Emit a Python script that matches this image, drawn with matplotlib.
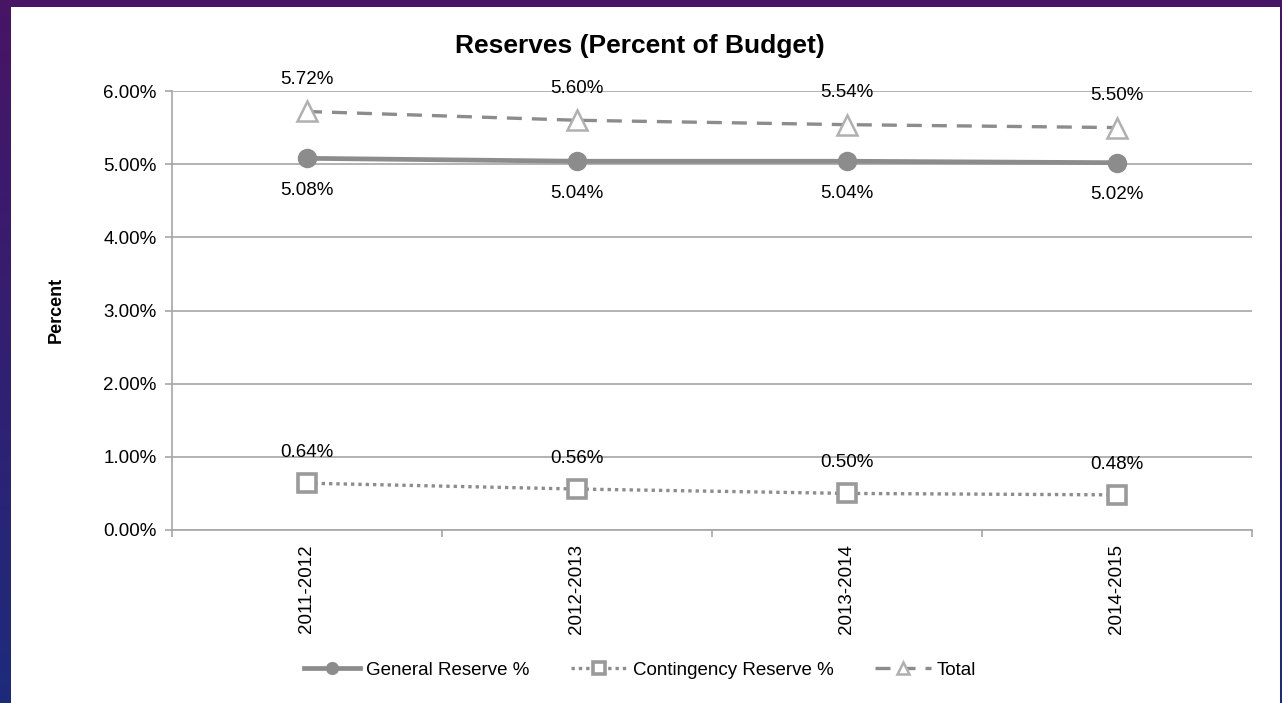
import numpy as np
import matplotlib
matplotlib.use("Agg")
import matplotlib.pyplot as plt
from matplotlib.patches import Rectangle
from matplotlib.ticker import FuncFormatter, FixedLocator

plt.rcParams['font.family'] = ['Liberation Sans', 'DejaVu Sans']

years = ["2011-2012", "2012-2013", "2013-2014", "2014-2015"]
general = [5.08, 5.04, 5.04, 5.02]
contingency = [0.64, 0.56, 0.50, 0.48]
total = [5.72, 5.60, 5.54, 5.50]

W, H = 1282, 703
fig = plt.figure(figsize=(W / 100, H / 100), dpi=100)

# slide background: purple at the top fading to blue
bg = fig.add_axes([0, 0, 1, 1], zorder=-10)
grad = np.linspace(0, 1, 256).reshape(-1, 1)
top_c = np.array([0x48, 0x14, 0x66]) / 255
bot_c = np.array([0x1d, 0x2b, 0x7c]) / 255
img = top_c[None, None, :] * (1 - grad[:, :, None]) + bot_c[None, None, :] * grad[:, :, None]
bg.imshow(img, aspect='auto', extent=[0, 1, 0, 1], origin='upper')
bg.add_patch(Rectangle((11 / W, 0), (1280 - 11) / W, 1 - 7 / H, facecolor='white',
                       edgecolor='none', transform=bg.transAxes))
bg.set_xlim(0, 1)
bg.set_ylim(0, 1)
bg.axis('off')

ax = fig.add_axes([172 / W, 1 - 530 / H, (1252 - 172) / W, (530 - 91) / H])
ax.set_facecolor('none')
x = np.arange(len(years))
line_col = '#8c8c8c'

ax.plot(x, general, color=line_col, lw=3.4, marker='o', ms=13, mfc=line_col, mec=line_col,
        label='General Reserve %', zorder=4)
ax.plot(x, contingency, color=line_col, lw=2.4, ls=(0, (1, 1.2)), marker='s', ms=12.5,
        mfc='white', mec='#9a9a9a', mew=2.6, label='Contingency Reserve %', zorder=4)
ax.plot(x, total, color=line_col, lw=2.4, ls=(0, (4.5, 3)), marker='^', ms=14,
        mfc='white', mec='#b0b0b0', mew=1.8, label='Total', zorder=4)

lab_kw = dict(textcoords='offset points', ha='center', va='center', fontsize=13.5)
for i in x:
    ax.annotate(f"{total[i]:.2f}%", (i, total[i]), xytext=(0, 23), **lab_kw)
    ax.annotate(f"{general[i]:.2f}%", (i, general[i]), xytext=(0, -23), **lab_kw)
    ax.annotate(f"{contingency[i]:.2f}%", (i, contingency[i]), xytext=(0, 22), **lab_kw)

ax.set_xlim(-0.5, len(years) - 0.5)
ax.set_ylim(0, 6)
ax.set_yticks(np.arange(0, 7, 1))
ax.yaxis.set_major_formatter(FuncFormatter(lambda v, p: f"{v:.2f}%"))
ax.grid(axis='y', color='#a6a6a6', lw=1.2)
ax.set_axisbelow(True)

# category labels centred, tick marks on the boundaries
ax.xaxis.set_major_locator(FixedLocator(np.arange(-0.5, len(years), 1)))
ax.xaxis.set_major_formatter(FuncFormatter(lambda v, p: ""))
ax.xaxis.set_minor_locator(FixedLocator(x))
ax.set_xticklabels(years, minor=True, rotation=90, fontsize=13.5)
ax.tick_params(axis='x', which='minor', length=0, pad=10)
ax.tick_params(axis='x', which='major', length=5, color='#a6a6a6', width=1.2)
ax.tick_params(axis='y', length=5, color='#a6a6a6', width=1.2, labelsize=13.5, pad=6)

for s in ['top', 'right']:
    ax.spines[s].set_visible(False)
for s in ['left', 'bottom']:
    ax.spines[s].set_color('#a6a6a6')
    ax.spines[s].set_linewidth(1.2)

fig.text(640 / W, 1 - 46 / H, "Reserves (Percent of Budget)", ha='center', va='center',
         fontsize=19, fontweight='bold')
fig.text(56 / W, 1 - 310 / H, "Percent", ha='center', va='center', rotation=90,
         fontsize=13, fontweight='bold')

fig.legend(loc='center', bbox_to_anchor=(640 / W, 1 - 670 / H), ncol=3, frameon=False,
           fontsize=13.5, handlelength=3.0, handletextpad=0.3, columnspacing=2.2,
           markerscale=0.65)

fig.savefig("out.png", dpi=100)
